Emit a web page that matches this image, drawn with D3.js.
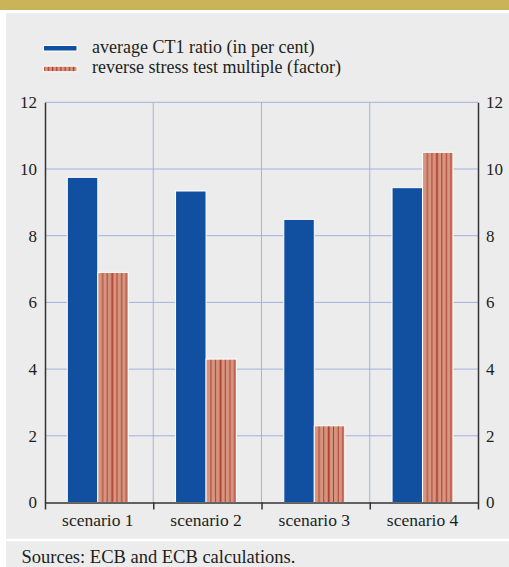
<!DOCTYPE html>
<html>
<head>
<meta charset="utf-8">
<script src="https://cdn.jsdelivr.net/npm/d3@7"></script>
<style>
  body { margin: 0; background: #fff; }
  text { font-family: "Liberation Serif", "Times New Roman", serif; fill: #1e1e1e; }
</style>
</head>
<body>
<div id="graph"></div>
<script>
const categories = ["scenario 1", "scenario 2", "scenario 3", "scenario 4"];
const seriesNames = ["average CT1 ratio (in per cent)", "reverse stress test multiple (factor)"];
const ct1Ratio = [9.75, 9.34, 8.49, 9.44];
const stressMultiple = [6.9, 4.3, 2.3, 10.5];
const yTicks = [0, 2, 4, 6, 8, 10, 12];
const sourceNote = "Sources: ECB and ECB calculations.";

const fullwidth = 509;
const fullheight = 567;
const plotLeft = 45, plotRight = 478, plotTop = 102.3, plotBottom = 502.5;

const svg = d3.select("#graph").append("svg")
    .attr("width", fullwidth)
    .attr("height", fullheight);

// panels
svg.append("rect").attr("x", 0).attr("y", 0).attr("width", fullwidth).attr("height", 10).attr("fill", "#c9b45a");
svg.append("rect").attr("x", 6).attr("y", 13.3).attr("width", fullwidth - 6).attr("height", 525.4).attr("fill", "#ebeceb");
svg.append("rect").attr("x", 6).attr("y", 541.3).attr("width", fullwidth - 6).attr("height", 30).attr("fill", "#ebeceb");

// stripe pattern for the red series (stretched to each bar)
const defs = svg.append("defs");
const pat = defs.append("pattern")
    .attr("id", "stripes")
    .attr("patternUnits", "objectBoundingBox")
    .attr("patternContentUnits", "objectBoundingBox")
    .attr("width", 1).attr("height", 1);
pat.append("rect").attr("width", 1).attr("height", 1).attr("fill", "#d49680");
const stripeAt = [[4.3, 1], [8.8, 1], [13.3, 1.8], [18.4, 1], [23, 1], [27.5, 1]];
stripeAt.forEach(([sx, sw]) => {
    pat.append("rect").attr("x", sx / 30).attr("width", sw / 30).attr("height", 1).attr("fill", "#b23b2d");
});
// legend swatch version
const patL = defs.append("pattern")
    .attr("id", "stripesL")
    .attr("patternUnits", "userSpaceOnUse")
    .attr("width", 4.2).attr("height", 10);
patL.append("rect").attr("width", 4.2).attr("height", 10).attr("fill", "#d49680");
patL.append("rect").attr("x", 1.5).attr("width", 1.3).attr("height", 10).attr("fill", "#b23b2d");

const y = d3.scaleLinear().domain([0, 12]).range([plotBottom, plotTop]);
const x0 = d3.scaleBand().domain(categories).range([plotLeft, plotRight]).padding(0);
const x1 = d3.scaleBand().domain(seriesNames).range([22.3, 83.3]).padding(0);
const xEdge = d3.scaleLinear().domain([0, categories.length]).range([plotLeft, plotRight]);

// gridlines
svg.append("g").selectAll("line")
    .data(yTicks.filter(d => d > 0))
    .enter().append("line")
    .attr("x1", plotLeft).attr("x2", plotRight)
    .attr("y1", d => y(d)).attr("y2", d => y(d))
    .attr("stroke", "#a5b0e2").attr("stroke-width", 1);
svg.append("g").selectAll("line")
    .data(d3.range(1, categories.length))
    .enter().append("line")
    .attr("x1", d => xEdge(d)).attr("x2", d => xEdge(d))
    .attr("y1", plotTop).attr("y2", plotBottom)
    .attr("stroke", "#a5b0e2").attr("stroke-width", 1);

// bars
const colors = ["#1150a0", "url(#stripes)"];
const legendColors = ["#1150a0", "url(#stripesL)"];
const rows = categories.map((c, i) => ({ cat: c, values: [ct1Ratio[i], stressMultiple[i]] }));
const groups = svg.append("g").selectAll("g")
    .data(rows)
    .enter().append("g")
    .attr("transform", d => `translate(${x0(d.cat)},0)`);
groups.selectAll("rect")
    .data(d => d.values.map((v, k) => ({ name: seriesNames[k], value: v, k })))
    .enter().append("rect")
    .attr("x", d => x1(d.name))
    .attr("y", d => y(d.value))
    .attr("width", x1.bandwidth())
    .attr("height", d => y(0) - y(d.value))
    .attr("fill", d => colors[d.k])
    .attr("stroke", "#fff")
    .attr("stroke-width", 1);

// axes
const axisColor = "#333";
const leftAxis = svg.append("g")
    .attr("transform", `translate(${plotLeft},0)`)
    .call(d3.axisLeft(y).tickValues(yTicks).tickSize(0).tickPadding(8));
const rightAxis = svg.append("g")
    .attr("transform", `translate(${plotRight},0)`)
    .call(d3.axisRight(y).tickValues(yTicks).tickSize(0).tickPadding(8));
const bottomAxis = svg.append("g")
    .attr("transform", `translate(0,${plotBottom})`)
    .call(d3.axisBottom(xEdge).tickValues(d3.range(0, categories.length + 1)).tickFormat("").tickSizeInner(7).tickSizeOuter(0));
[leftAxis, rightAxis, bottomAxis].forEach(a => {
    a.attr("font-family", null);
    a.select(".domain").attr("stroke", axisColor).attr("stroke-width", 1.5);
    a.selectAll(".tick line").attr("stroke", axisColor).attr("stroke-width", 1.5);
    a.selectAll("text").style("font-size", "17px").attr("fill", "#1e1e1e");
});

// category labels
svg.append("g").selectAll("text")
    .data(categories)
    .enter().append("text")
    .attr("x", d => x0(d) + 52.8)
    .attr("y", 526)
    .attr("text-anchor", "middle")
    .style("font-size", "17.5px")
    .text(d => d);

// legend
const legend = svg.append("g");
seriesNames.forEach((name, i) => {
    legend.append("rect")
        .attr("x", 43.5).attr("y", 45.5 + i * 20.7)
        .attr("width", 33.5).attr("height", 5.5)
        .attr("fill", legendColors[i])
        .attr("stroke", "#fff").attr("stroke-width", 1);
    legend.append("text")
        .attr("x", 92).attr("y", 52.7 + i * 20.7)
        .style("font-size", "18px")
        .text(name);
});

// source note
svg.append("text")
    .attr("x", 21.5).attr("y", 562.5)
    .style("font-size", "18.5px")
    .text(sourceNote);
</script>
</body>
</html>
